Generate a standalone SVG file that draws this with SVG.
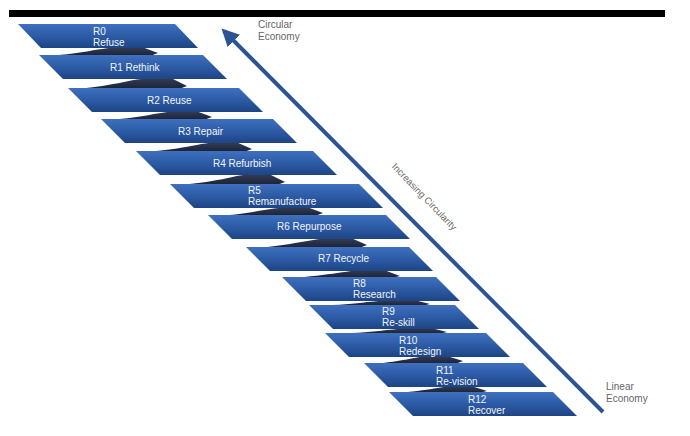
<svg xmlns="http://www.w3.org/2000/svg" width="690" height="436" viewBox="0 0 690 436">
<defs>
<linearGradient id="gStrip" x1="0" y1="0" x2="0" y2="1">
<stop offset="0" stop-color="#3f70bf"/>
<stop offset="0.45" stop-color="#2e5da9"/>
<stop offset="1" stop-color="#1d4585"/>
</linearGradient>
<linearGradient id="gWedge" x1="0" y1="0" x2="0" y2="1">
<stop offset="0" stop-color="#333d55"/>
<stop offset="1" stop-color="#1a2237"/>
</linearGradient>
<marker id="ah" viewBox="0 0 10 10" refX="8" refY="5" markerWidth="4.4" markerHeight="4.4" orient="auto" markerUnits="strokeWidth">
<path d="M0,0 L10,5 L0,10 Z" fill="#2c5494"/>
</marker>
</defs>
<style>
.strip{fill:url(#gStrip);}
.wedge{fill:url(#gWedge);}
.lbl{font-family:"Liberation Sans",Arial,sans-serif;font-size:10px;fill:#f2f5fa;}
.side{font-family:"Liberation Sans",Arial,sans-serif;font-size:10px;fill:#666;}
.axis{stroke:#2c5494;stroke-width:4;fill:none;}
</style>
<rect x="9" y="10" width="656" height="7" fill="#000"/>

<g id="shadows">
<path class="wedge" d="M42,56 C80,55 100,47 125,47 L142,47 L158,53 L150,56 Z"/>
<path class="wedge" d="M70,89 C110,88 130,78 155,78 L171,78 L187,86 L179,89 Z"/>
<path class="wedge" d="M103,120 C140,119 160,111 182,111 L196,111 L212,117 L204,120 Z"/>
<path class="wedge" d="M137,152 C180,151 200,142 222,142 L236,142 L252,149 L244,152 Z"/>
<path class="wedge" d="M172,185 C215,184 235,174 255,174 L269,174 L285,182 L277,185 Z"/>
<path class="wedge" d="M210,216 C250,215 270,207 292,207 L307,207 L323,213 L315,216 Z"/>
<path class="wedge" d="M248,248 C290,247 310,238 335,238 L351,238 L367,245 L359,248 Z"/>
<path class="wedge" d="M283,278 C325,277 345,270 368,270 L384,270 L400,276 L392,278 Z"/>
<path class="wedge" d="M310,306 C355,305 375,300 398,300 L414,300 L430,304 L422,306 Z"/>
<path class="wedge" d="M327,334 C375,333 395,328 415,328 L431,328 L447,332 L439,334 Z"/>
<path class="wedge" d="M366,364 C400,363 415,356 432,356 L447,356 L463,361 L455,364 Z"/>
<path class="wedge" d="M390,393 C425,392 440,386 456,386 L471,386 L487,391 L479,393 Z"/>
</g>

<g id="r0"><path class="strip" d="M18,24 L175,24 L198,48 L41,48 Z"/><text class="lbl" x="93" y="35">R0</text><text class="lbl" x="93" y="46">Refuse</text></g>
<g id="r1"><path class="strip" d="M39,55 L203,55 L227,79 L63,79 Z"/><text class="lbl" x="110" y="71">R1 Rethink</text></g>
<g id="r2"><path class="strip" d="M68,88 L239,88 L263,112 L92,112 Z"/><text class="lbl" x="147" y="104">R2 Reuse</text></g>
<g id="r3"><path class="strip" d="M101,119 L273,119 L297,143 L125,143 Z"/><text class="lbl" x="178" y="135">R3 Repair</text></g>
<g id="r4"><path class="strip" d="M136,151 L313,151 L337,175 L160,175 Z"/><text class="lbl" x="213" y="167">R4 Refurbish</text></g>
<g id="r5"><path class="strip" d="M170,184 L359,184 L383,208 L194,208 Z"/><text class="lbl" x="248" y="194">R5</text><text class="lbl" x="248" y="205">Remanufacture</text></g>
<g id="r6"><path class="strip" d="M208,215 L386,215 L410,239 L232,239 Z"/><text class="lbl" x="277" y="230">R6 Repurpose</text></g>
<g id="r7"><path class="strip" d="M246,247 L409,247 L433,271 L270,271 Z"/><text class="lbl" x="318" y="262">R7 Recycle</text></g>
<g id="r8"><path class="strip" d="M282,277 L436,277 L460,301 L306,301 Z"/><text class="lbl" x="353" y="287">R8</text><text class="lbl" x="353" y="298">Research</text></g>
<g id="r9"><path class="strip" d="M309,305 L455,305 L479,329 L333,329 Z"/><text class="lbl" x="382" y="315">R9</text><text class="lbl" x="382" y="326">Re-skill</text></g>
<g id="r10"><path class="strip" d="M325,333 L486,333 L510,357 L349,357 Z"/><text class="lbl" x="399" y="344">R10</text><text class="lbl" x="399" y="355">Redesign</text></g>
<g id="r11"><path class="strip" d="M364,363 L523,363 L547,387 L388,387 Z"/><text class="lbl" x="436" y="374">R11</text><text class="lbl" x="436" y="385">Re-vision</text></g>
<g id="r12"><path class="strip" d="M389,392 L553,392 L577,416 L413,416 Z"/><text class="lbl" x="468" y="403">R12</text><text class="lbl" x="468" y="414">Recover</text></g>

<g id="connectors">
<line class="axis" x1="603" y1="412" x2="224" y2="31" marker-end="url(#ah)"/>
</g>

<g id="labels">
<text class="side" x="258" y="28">Circular</text>
<text class="side" x="258" y="40">Economy</text>
<text class="side" x="606" y="390">Linear</text>
<text class="side" x="606" y="402">Economy</text>
<text class="side" style="font-size:9.5px" x="0" y="0" text-anchor="middle" transform="translate(422,199) rotate(46)">Increasing Circularity</text>
</g>
</svg>
